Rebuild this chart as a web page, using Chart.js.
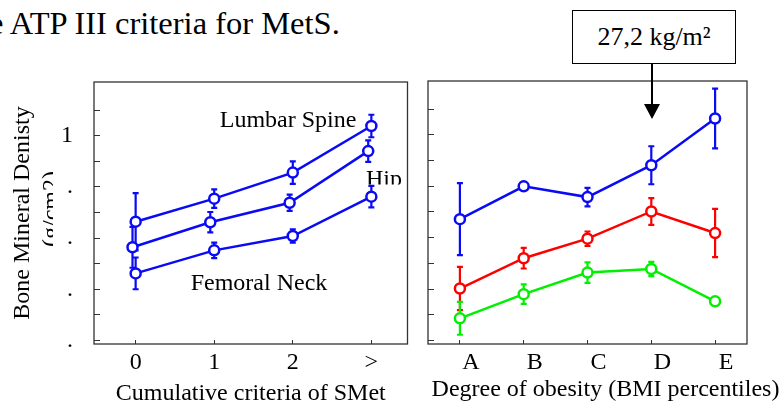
<!DOCTYPE html>
<html>
<head>
<meta charset="utf-8">
<script src="https://cdn.jsdelivr.net/npm/chart.js@4.4.1/dist/chart.umd.min.js"></script>
<style>
  html, body { margin: 0; padding: 0; background: #fff; }
  #page { position: relative; width: 780px; height: 406px; overflow: hidden;
          font-family: "Liberation Serif", serif; color: #000; }
  #smetChart { position: absolute; left: 0; top: 0; }
  #bmiChart { position: absolute; left: 415px; top: 0; }
  .caption { position: absolute; left: -11px; top: 7px; font-size: 32.5px; line-height: 32px; white-space: nowrap; }
  .cutoff { position: absolute; left: 572px; top: 10px; width: 164px; height: 54px; box-sizing: border-box;
            border: 1.5px solid #000; font-size: 26px; line-height: 51px; text-align: center; background: #fff; }
  #arrow { position: absolute; left: 0; top: 0; pointer-events: none; }
</style>
</head>
<body>
<div id="page">
  <div class="caption">e ATP III criteria for MetS.</div>
  <div class="cutoff">27,2 kg/m²</div>
  <canvas id="smetChart" width="415" height="406"></canvas>
  <canvas id="bmiChart" width="365" height="406"></canvas>
  <svg id="arrow" width="780" height="406">
    <line x1="652" y1="64" x2="652" y2="106" stroke="#000" stroke-width="2"/>
    <polygon points="644,104 660,104 652,119" fill="#000"/>
  </svg>
</div>
<script>
// Left panel: BMD by number of metabolic syndrome criteria
const smetTicks = [0, 1, 2, 3];
const smetTickLabels = ['0', '1', '2', '>'];
const lumbarX = [0, 1, 2, 3];
const lumbarBmd = [0.832, 0.877, 0.928, 1.019];
const lumbarErr = [0.056, 0.018, 0.022, 0.022];
const hipX = [-0.04, 0.95, 1.96, 2.96];
const hipBmd = [0.782, 0.831, 0.869, 0.970];
const hipErr = [0.040, 0.020, 0.016, 0.021];
const neckX = [0, 1, 2, 3];
const neckBmd = [0.731, 0.776, 0.804, 0.881];
const neckErr = [0.031, 0.015, 0.013, 0.021];

// Right panel: BMD by BMI percentile group
const bmiCategories = ['A', 'B', 'C', 'D', 'E'];
const blueBmd = [0.836, 0.900, 0.879, 0.941, 1.032];
const blueErr = [0.070, 0.003, 0.018, 0.037, 0.058];
const redBmd = [0.701, 0.760, 0.798, 0.851, 0.809];
const redErr = [0.042, 0.020, 0.014, 0.026, 0.047];
const greenBmd = [0.643, 0.690, 0.732, 0.739, 0.676];
const greenErr = [0.032, 0.019, 0.020, 0.014, 0.003];

// shared y ticks (labels in the source are cut down to dots)
const bmdTicks = [0.6, 0.65, 0.7, 0.75, 0.8, 0.85, 0.9, 0.95, 1.0, 1.05];
const bmdTickLabels = ['.', '', '.', '', '.', '', '.', '', '1', ''];

const serif = '"Liberation Serif", serif';
const textFont = '24px "Liberation Serif"';
const axisColor = '#333';
const blue = 'rgb(10, 10, 245)';
const red = 'rgb(255, 0, 0)';
const green = 'rgb(0, 240, 0)';

function toPoints(xs, ys) {
    return xs.map((x, i) => ({ x: x, y: ys[i] }));
}

function series(data, errors, color) {
    return {
        data: data,
        errors: errors,
        borderColor: color,
        borderWidth: 2.5,
        pointRadius: 5,
        pointBorderWidth: 2.5,
        pointBackgroundColor: '#fff',
        pointBorderColor: color,
        tension: 0,
        fill: false
    };
}

// Vertical error bars with caps, drawn under the open circles
const errorBars = {
    id: 'errorBars',
    beforeDatasetsDraw(chart) {
        const ctx = chart.ctx;
        const y = chart.scales.y;
        chart.data.datasets.forEach((ds, i) => {
            const meta = chart.getDatasetMeta(i);
            ctx.save();
            ctx.strokeStyle = ds.borderColor;
            ctx.lineWidth = 2.2;
            meta.data.forEach((pt, j) => {
                const raw = ds.data[j];
                const v = typeof raw === 'object' ? raw.y : raw;
                const top = y.getPixelForValue(v + ds.errors[j]);
                const bot = y.getPixelForValue(v - ds.errors[j]);
                ctx.beginPath();
                ctx.moveTo(pt.x, top); ctx.lineTo(pt.x, bot);
                ctx.moveTo(pt.x - 3, top); ctx.lineTo(pt.x + 3, top);
                ctx.moveTo(pt.x - 3, bot); ctx.lineTo(pt.x + 3, bot);
                ctx.stroke();
            });
            ctx.restore();
        });
    }
};

// Full box around the plot area
const frame = {
    id: 'frame',
    afterDraw(chart) {
        const { ctx, chartArea: a } = chart;
        ctx.save();
        ctx.strokeStyle = axisColor;
        ctx.lineWidth = 1.3;
        ctx.strokeRect(a.left, a.top, a.right - a.left, a.bottom - a.top);
        ctx.restore();
    }
};

// Series names, and the clipped unit line of the y title
const smetNotes = {
    id: 'smetNotes',
    afterDraw(chart) {
        const { ctx, scales: { x, y } } = chart;
        ctx.save();
        ctx.fillStyle = '#000';
        ctx.font = textFont;
        ctx.textAlign = 'center';
        ctx.textBaseline = 'middle';
        ctx.fillText('Lumbar Spine', x.getPixelForValue(1.94), y.getPixelForValue(1.029));
        ctx.fillText('Femoral Neck', x.getPixelForValue(1.57), y.getPixelForValue(0.71));

        ctx.save();
        ctx.beginPath();
        ctx.rect(0, 0, chart.width, 184.5);
        ctx.clip();
        ctx.textBaseline = 'alphabetic';
        ctx.fillText('Hip', x.getPixelForValue(3.16), y.getPixelForValue(0.9025));
        ctx.restore();

        ctx.save();
        ctx.beginPath();
        ctx.rect(0, 0, 53, chart.height);
        ctx.clip();
        ctx.translate(58, 209);
        ctx.rotate(-Math.PI / 2);
        ctx.textBaseline = 'alphabetic';
        ctx.fillText('(g/cm2)', 0, 0);
        ctx.restore();
        ctx.restore();
    }
};

const bmiTitle = {
    id: 'bmiTitle',
    afterDraw(chart) {
        const { ctx, chartArea: a } = chart;
        ctx.save();
        ctx.fillStyle = '#000';
        ctx.font = textFont;
        ctx.textAlign = 'center';
        ctx.textBaseline = 'middle';
        ctx.fillText('Degree of obesity (BMI percentiles)', (a.left + a.right) / 2 + 18, 390);
        ctx.restore();
    }
};

function bmdAxis(showLabels) {
    return {
        min: 0.593,
        max: 1.105,
        afterBuildTicks: s => { s.ticks = bmdTicks.map(v => ({ value: v })); },
        afterFit: s => { s.width = showLabels ? 94 : 13; },
        border: { display: false },
        grid: { drawOnChartArea: false, drawTicks: true, tickLength: -6, color: axisColor },
        ticks: {
            autoSkip: false,
            padding: 27,
            color: '#000',
            font: { family: serif, size: 24 },
            callback: (v, i) => showLabels ? bmdTickLabels[i] : ''
        },
        title: {
            display: showLabels,
            text: 'Bone Mineral Denisty',
            color: '#000',
            font: { family: serif, size: 24, lineHeight: 1 },
            padding: { top: 11, bottom: 0 }
        }
    };
}

const xTickFont = { family: serif, size: 24 };

new Chart(document.getElementById('smetChart'), {
    type: 'line',
    data: {
        datasets: [
            series(toPoints(lumbarX, lumbarBmd), lumbarErr, blue),
            series(toPoints(hipX, hipBmd), hipErr, blue),
            series(toPoints(neckX, neckBmd), neckErr, blue)
        ]
    },
    options: {
        responsive: false,
        animation: false,
        devicePixelRatio: 1,
        layout: { padding: { left: 0, top: 82, right: 2, bottom: 0 } },
        plugins: { legend: { display: false }, tooltip: { enabled: false } },
        scales: {
            x: {
                type: 'linear',
                min: -0.53,
                max: 3.46,
                afterBuildTicks: s => { s.ticks = smetTicks.map(v => ({ value: v })); },
                afterFit: s => { s.height = 62; },
                border: { display: false },
                grid: { drawOnChartArea: false, tickLength: -4, color: axisColor },
                ticks: {
                    autoSkip: false,
                    maxRotation: 0,
                    padding: 8,
                    color: '#000',
                    font: xTickFont,
                    callback: (v, i) => smetTickLabels[i]
                },
                title: {
                    display: true,
                    text: 'Cumulative criteria of SMet',
                    color: '#000',
                    font: { family: serif, size: 24, lineHeight: 1 },
                    padding: { top: 0, bottom: 0 }
                }
            },
            y: bmdAxis(true)
        }
    },
    plugins: [errorBars, frame, smetNotes]
});

new Chart(document.getElementById('bmiChart'), {
    type: 'line',
    data: {
        labels: bmiCategories,
        datasets: [
            series(blueBmd, blueErr, blue),
            series(redBmd, redErr, red),
            series(greenBmd, greenErr, green)
        ]
    },
    options: {
        responsive: false,
        animation: false,
        devicePixelRatio: 1,
        layout: { padding: { left: 0, top: 81, right: 33, bottom: 0 } },
        plugins: { legend: { display: false }, tooltip: { enabled: false } },
        scales: {
            x: {
                type: 'category',
                offset: true,
                afterFit: s => { s.height = 62; },
                border: { display: false },
                grid: { offset: false, drawOnChartArea: false, tickLength: -4, color: axisColor },
                ticks: {
                    autoSkip: false,
                    maxRotation: 0,
                    padding: 8,
                    labelOffset: 11,
                    color: '#000',
                    font: xTickFont
                }
            },
            y: bmdAxis(false)
        }
    },
    plugins: [errorBars, frame, bmiTitle]
});
</script>
</body>
</html>
